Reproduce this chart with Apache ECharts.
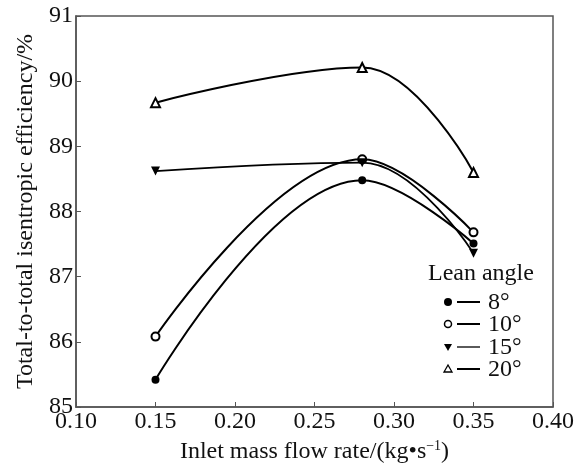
<!DOCTYPE html>
<html>
<head>
<meta charset="utf-8">
<script src="https://cdn.jsdelivr.net/npm/echarts@6/dist/echarts.min.js"></script>
<style>
  html, body { margin: 0; padding: 0; background: #fff; }
  #chart { width: 576px; height: 463px; }
</style>
</head>
<body>
<div id="chart"></div>
<script>
// inlet mass flow rate, kg/s
const flowRates = [0.15, 0.28, 0.35];
// efficiency (%) for each lean angle
const eff8 = [85.42, 88.48, 87.51];
const eff10 = [86.08, 88.8, 87.68];
const eff15 = [88.62, 88.75, 87.36];
const eff20 = [89.67, 90.21, 88.6];
const leanAngles = ["8°", "10°", "15°", "20°"];

const font = "'Liberation Serif', 'Times New Roman', serif";
const fs = 24;
const pairs = (vals) => vals.map((v, i) => [flowRates[i], v]);

const chart = echarts.init(document.getElementById("chart"));

// legend drawn by hand: symbol on the left, then a short line, then the label
const legendX = 448;
const legendRows = [302, 324, 347, 369];
const legendGraphics = [
  { type: "text", left: 428, top: 262, style: { text: "Lean angle", font: fs + "px " + font, fill: "#111" } },
];
const legendSymbols = [
  { type: "circle", shape: { r: 4 }, style: { fill: "#000" } },
  { type: "circle", shape: { r: 3.5 }, style: { fill: "#fff", stroke: "#000", lineWidth: 1.5 } },
  { type: "polygon", shape: { points: [[-4, -3], [4, -3], [0, 4]] }, style: { fill: "#000" } },
  { type: "polygon", shape: { points: [[-4, 3], [4, 3], [0, -4]] }, style: { fill: "#fff", stroke: "#000", lineWidth: 1.3 } },
];
const legendLineW = [2, 2, 1.3, 2];
legendRows.forEach((y, i) => {
  const s = legendSymbols[i];
  legendGraphics.push(Object.assign({}, s, { x: legendX, y: y }));
  legendGraphics.push({
    type: "line",
    shape: { x1: 457, y1: y, x2: 480, y2: y },
    style: { stroke: "#000", lineWidth: legendLineW[i] },
  });
  legendGraphics.push({
    type: "text",
    left: 488,
    top: y - 11,
    style: { text: leanAngles[i], font: fs + "px " + font, fill: "#111", lineHeight: 22 },
  });
});

const lineSeries = (name, vals, symbol, size, width, extra) =>
  Object.assign(
    {
      name: name,
      type: "line",
      smooth: 0.4,
      data: pairs(vals),
      symbol: symbol,
      symbolSize: size,
      lineStyle: { color: "#000", width: width },
      itemStyle: { color: "#000", borderWidth: 1.5 },
      z: 3,
    },
    extra || {}
  );

chart.setOption({
  animation: false,
  textStyle: { fontFamily: font },
  grid: {
    left: 76, right: 23, top: 16, bottom: 56,
    outerBoundsMode: "none",
    show: true, borderColor: "#555", borderWidth: 1.5,
  },
  xAxis: {
    type: "value",
    min: 0.1,
    max: 0.4,
    interval: 0.05,
    name: "Inlet mass flow rate/(kg•s{sup|−1})",
    nameLocation: "middle",
    nameGap: 23,
    nameTextStyle: {
      fontFamily: font,
      fontSize: fs,
      color: "#111",
      rich: { sup: { fontFamily: font, fontSize: 14, verticalAlign: "top", padding: [0, 0, 12, 0] } },
    },
    axisLine: { lineStyle: { color: "#555", width: 1.5 } },
    axisTick: { inside: true, length: 5, lineStyle: { color: "#555" } },
    axisLabel: { fontFamily: font, fontSize: fs, lineHeight: 20, color: "#111", margin: 5, formatter: (v) => v.toFixed(2) },
    splitLine: { show: false },
  },
  yAxis: {
    type: "value",
    min: 85,
    max: 91,
    interval: 1,
    name: "Total-to-total isentropic efficiency/%",
    nameLocation: "middle",
    nameGap: 37,
    nameTextStyle: { fontFamily: font, fontSize: fs, color: "#111" },
    axisLine: { lineStyle: { color: "#555", width: 1.5 } },
    axisTick: { inside: true, length: 5, lineStyle: { color: "#555" } },
    axisLabel: { fontFamily: font, fontSize: fs, lineHeight: 20, color: "#111", margin: 3 },
    splitLine: { show: false },
  },
  graphic: legendGraphics,
  series: [
    lineSeries(leanAngles[0], eff8, "circle", 8, 2),
    lineSeries(leanAngles[1], eff10, "emptyCircle", 8, 2),
    lineSeries(leanAngles[2], eff15, "triangle", 9, 1.8, { symbolRotate: 180 }),
    lineSeries(leanAngles[3], eff20, "emptyTriangle", 9, 2, { itemStyle: { color: "#000", borderWidth: 1.3 } }),
  ],
});
</script>
</body>
</html>
